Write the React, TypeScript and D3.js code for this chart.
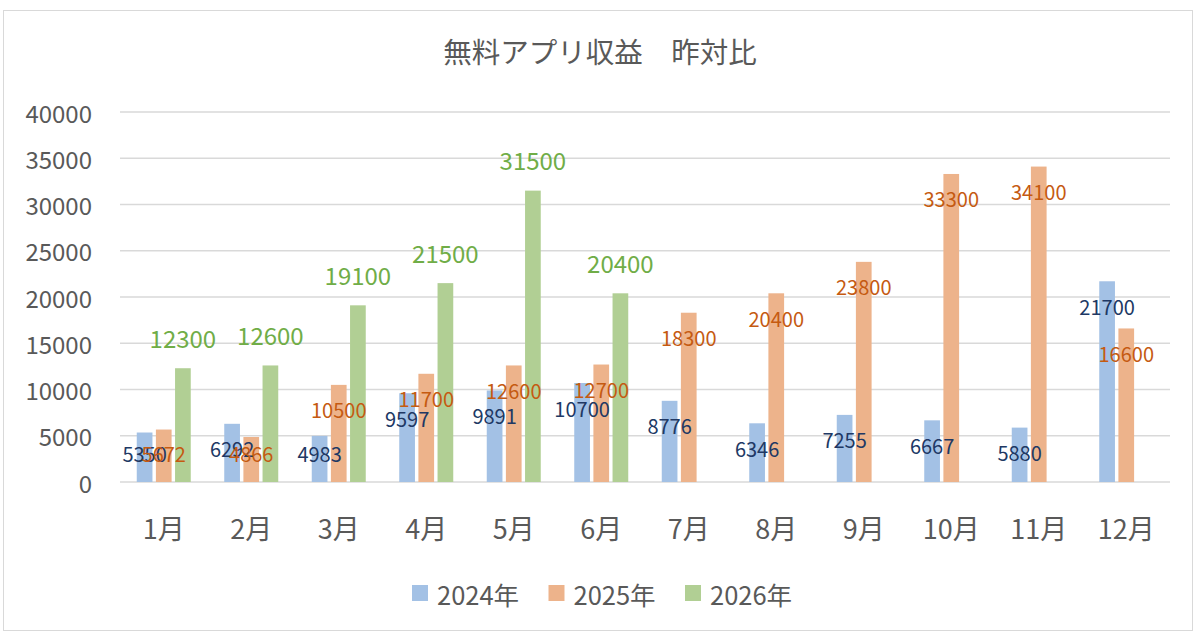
import React, { useEffect } from 'react';
import * as d3 from 'd3';

// chart values
const months = ['1月', '2月', '3月', '4月', '5月', '6月', '7月', '8月', '9月', '10月', '11月', '12月'];
const seriesNames = ['2024年', '2025年', '2026年'];
const values2024 = [5350, 6292, 4983, 9597, 9891, 10700, 8776, 6346, 7255, 6667, 5880, 21700];
const values2025 = [5672, 4866, 10500, 11700, 12600, 12700, 18300, 20400, 23800, 33300, 34100, 16600];
const values2026: (number | null)[] = [12300, 12600, 19100, 21500, 31500, 20400, null, null, null, null, null, null];
const yTicks = [0, 5000, 10000, 15000, 20000, 25000, 30000, 35000, 40000];

const barColors = ['#a3c1e5', '#edb38b', '#b1cf94'];
const labelColors = ['#203864', '#c55a11', '#70ad47'];
const textGray = '#595959';
const font = '"Noto Sans CJK JP", "Noto Sans", sans-serif';

const width = 1200;
const height = 641;
const margin = { left: 120, right: 30, top: 112, bottom: 159 };

const App: React.FC = () => {
  useEffect(() => {
    document.body.style.margin = '0';
  }, []);

  const all = [values2024, values2025, values2026];

  const x0 = d3.scaleBand<string>()
    .domain(months)
    .range([margin.left, width - margin.right]);

  const groupW = 54;
  const x1 = d3.scaleBand<string>()
    .domain(seriesNames)
    .range([(x0.bandwidth() - groupW) / 2, (x0.bandwidth() + groupW) / 2])
    .paddingInner(0.18);

  const y = d3.scaleLinear()
    .domain([0, 40000])
    .range([height - margin.bottom, margin.top]);

  const base = y(0);

  return (
    <svg width={width} height={height} style={{ display: 'block', fontFamily: font }}>
      <rect x={3.5} y={10.5} width={1189} height={620} fill="#fff" stroke="#d9d9d9" />

      <text x={600} y={50} textAnchor="middle" dominantBaseline="central" fontSize={28.5} fill={textGray}>
        無料アプリ収益　昨対比
      </text>

      {/* grid + y ticks */}
      {yTicks.map(t => (
        <g key={t}>
          <line x1={margin.left} x2={width - margin.right} y1={y(t)} y2={y(t)} stroke="#d9d9d9" strokeWidth={1.3} />
          <text x={92} y={y(t)} textAnchor="end" dominantBaseline="central" fontSize={24} fill={textGray}>
            {t}
          </text>
        </g>
      ))}

      {/* bars */}
      {all.map((vals, si) => (
        <g key={si}>
          {vals.map((v, i) => v == null ? null : (
            <rect
              key={i}
              x={(x0(months[i]) ?? 0) + (x1(seriesNames[si]) ?? 0)}
              y={y(v)}
              width={x1.bandwidth()}
              height={base - y(v)}
              fill={barColors[si]}
            />
          ))}
        </g>
      ))}

      {/* labels: 2024 / 2025 inside end, 2026 outside end */}
      {all.map((vals, si) => (
        <g key={'l' + si}>
          {vals.map((v, i) => {
            if (v == null) return null;
            const cx = (x0(months[i]) ?? 0) + (x1(seriesNames[si]) ?? 0) + x1.bandwidth() / 2;
            const ly = si === 2 ? y(v) - 31 : Math.min(y(v) + 25, base - 29);
            return (
              <text
                key={i}
                x={cx}
                y={ly}
                textAnchor="middle"
                dominantBaseline="central"
                fontSize={si === 2 ? 24 : 20}
                fill={labelColors[si]}
              >
                {v}
              </text>
            );
          })}
        </g>
      ))}

      {/* x axis labels */}
      {months.map(m => (
        <text
          key={m}
          x={(x0(m) ?? 0) + x0.bandwidth() / 2}
          y={527}
          textAnchor="middle"
          dominantBaseline="central"
          fontSize={27}
          fill={textGray}
        >
          {m}
        </text>
      ))}

      {/* legend */}
      {seriesNames.map((s, i) => (
        <g key={s} transform={`translate(${412 + i * 136.5}, 593)`}>
          <rect x={0} y={-8} width={16} height={16} fill={barColors[i]} />
          <text x={25} y={0} dominantBaseline="central" fontSize={25.5} fill={textGray}>
            {s}
          </text>
        </g>
      ))}
    </svg>
  );
};

export default App;
